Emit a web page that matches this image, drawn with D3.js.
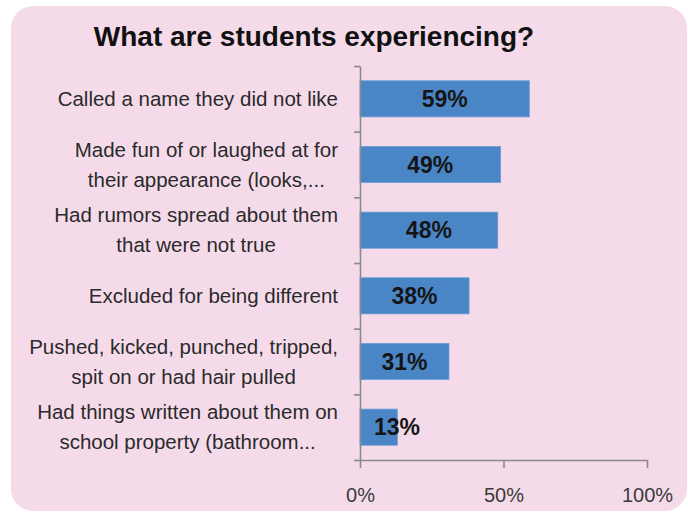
<!DOCTYPE html>
<html>
<head>
<meta charset="utf-8">
<script src="https://cdn.jsdelivr.net/npm/d3@7"></script>
<style>
  html, body { margin: 0; padding: 0; background: #ffffff; }
  svg { display: block; }
</style>
</head>
<body>
<script>
const title = "What are students experiencing?";
const categories = [
  "Called a name they did not like",
  "Made fun of or laughed at for\ntheir appearance (looks,...",
  "Had rumors spread about them\nthat were not true",
  "Excluded for being different",
  "Pushed, kicked, punched, tripped,\nspit on or had hair pulled",
  "Had things written about them on\nschool property (bathroom..."
];
const values = [0.59, 0.49, 0.48, 0.38, 0.31, 0.13];
const xTicks = [0, 0.5, 1];

const W = 688, H = 512;
const svg = d3.select("body").append("svg").attr("width", W).attr("height", H);

svg.append("rect")
  .attr("x", 11).attr("y", 6).attr("width", 676).attr("height", 505)
  .attr("rx", 22).attr("ry", 22)
  .attr("fill", "#f5dbea");

svg.append("text")
  .attr("x", 314).attr("y", 46)
  .attr("text-anchor", "middle")
  .attr("font-family", "Liberation Sans, Arial, sans-serif")
  .attr("font-weight", "bold")
  .attr("font-size", 28)
  .attr("fill", "#111")
  .text(title);

const x = d3.scaleLinear().domain([0, 1]).range([360, 647]);
const y = d3.scaleBand().domain(categories).range([66, 460]).paddingInner(0.45).paddingOuter(0.225);
const yIdx = d3.scaleLinear().domain([0, categories.length]).range([66, 460]);

const axisColor = "#8a8a8a";

// bars
svg.append("g").selectAll("rect")
  .data(values)
  .join("rect")
  .attr("x", x(0))
  .attr("y", (d, i) => y(categories[i]))
  .attr("width", d => x(d) - x(0))
  .attr("height", y.bandwidth())
  .attr("fill", "#4a86c6")
  .attr("stroke", "#6b9fd6")
  .attr("stroke-width", 0.8);

// left axis (ticks at band boundaries)
const gl = svg.append("g")
  .attr("transform", `translate(${x(0)},0)`)
  .call(d3.axisLeft(yIdx).tickValues(d3.range(categories.length + 1)).tickSize(6).tickSizeOuter(0).tickFormat(""));
gl.selectAll("path, line").attr("stroke", axisColor).attr("stroke-width", 1.6);

// bottom axis
const gb = svg.append("g")
  .attr("transform", `translate(0,${yIdx(categories.length)})`)
  .call(d3.axisBottom(x).tickValues(xTicks).tickSize(8).tickSizeOuter(0).tickPadding(20).tickFormat(d3.format(".0%")));
gb.selectAll("path, line").attr("stroke", axisColor).attr("stroke-width", 1.6);
gb.selectAll("text")
  .attr("font-family", "Liberation Sans, Arial, sans-serif")
  .attr("font-size", 20)
  .attr("fill", "#3a3a3a");

// category labels (wrapped lines centered as a block, block right-aligned)
const labelRight = 338;
const lineGap = 30;
const lg = svg.append("g")
  .attr("font-family", "Liberation Sans, Arial, sans-serif")
  .attr("font-size", 20.5)
  .attr("fill", "#2a2a2a");
categories.forEach(c => {
  const lines = c.split("\n");
  const cy = y(c) + y.bandwidth() / 2;
  const t = lg.append("text").attr("text-anchor", "middle");
  lines.forEach((ln, k) => {
    t.append("tspan")
      .attr("y", cy + (k - (lines.length - 1) / 2) * lineGap)
      .attr("dy", "0.35em")
      .text(ln);
  });
  let maxW = 0;
  t.selectAll("tspan").each(function () { maxW = Math.max(maxW, this.getComputedTextLength()); });
  t.selectAll("tspan").attr("x", labelRight - maxW / 2);
});

// value labels
svg.append("g").selectAll("text")
  .data(values)
  .join("text")
  .attr("x", d => Math.max((x(0) + x(d)) / 2, x(0) + 37))
  .attr("y", (d, i) => y(categories[i]) + y.bandwidth() / 2)
  .attr("dy", "0.36em")
  .attr("text-anchor", "middle")
  .attr("font-family", "Liberation Sans, Arial, sans-serif")
  .attr("font-weight", "bold")
  .attr("font-size", 23)
  .attr("fill", "#151515")
  .text(d => d3.format(".0%")(d));
</script>
</body>
</html>
